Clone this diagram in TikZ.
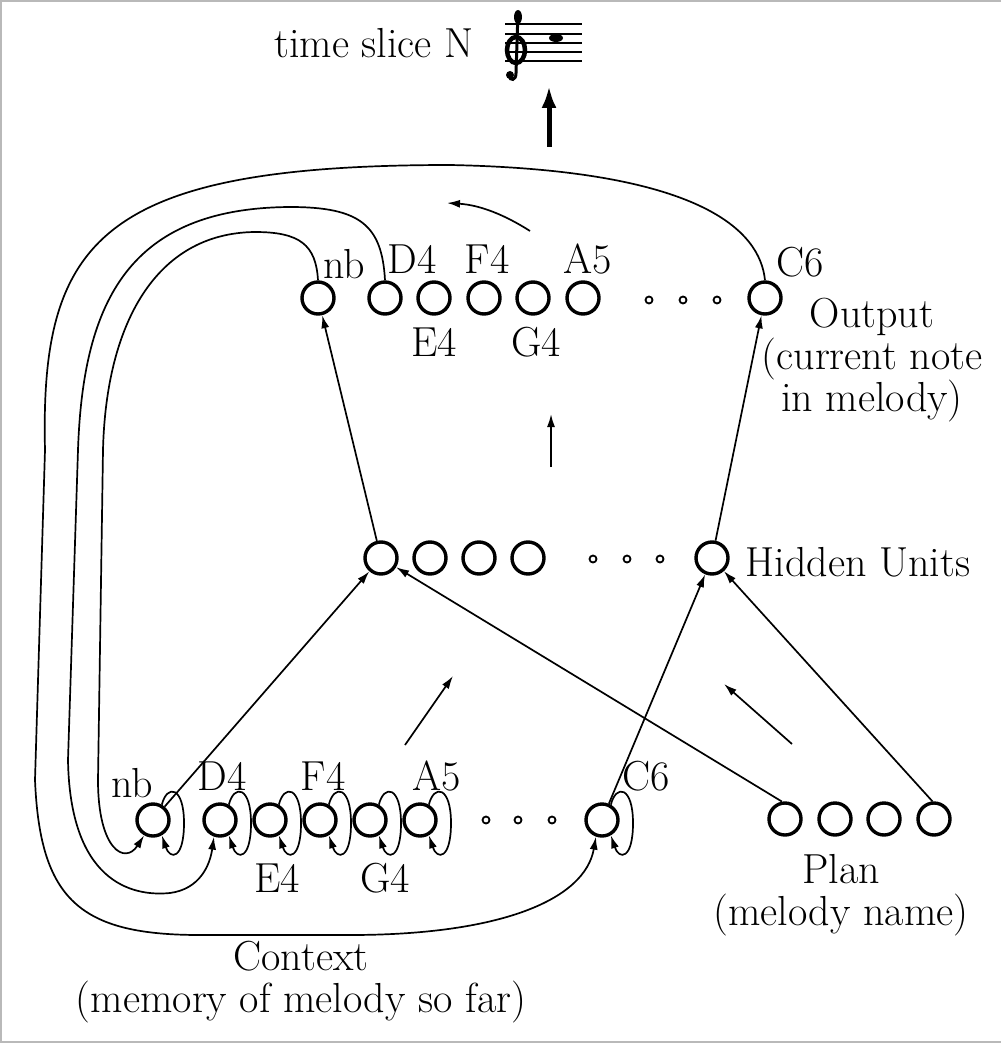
\documentclass[tikz,border=0pt]{standalone}
\usepackage{fontspec}
\usetikzlibrary{arrows.meta,calc}
\begin{document}
\begin{tikzpicture}[x=1pt,y=-1pt,
  unit/.style={circle,draw,line width=3.4pt,minimum size=32pt,inner sep=0pt},
  dotu/.style={circle,draw,line width=1.8pt,minimum size=7pt,inner sep=0pt},
  lab/.style={font=\fontsize{42}{42}\selectfont,inner sep=0pt,align=center},
  link/.style={line width=1.7pt},
  arr/.style={link,-{Latex[length=13pt,width=8pt]}},
  bigarr/.style={line width=5pt,-{Latex[length=22pt,width=15pt]}},
  staffline/.style={line width=2.6pt}
  ]
\useasboundingbox (0,0) rectangle (1001,1043);
\draw[gray!55,line width=4pt] (1001,0) -- (0,0) -- (0,1043) -- (1001,1043);

% ---------- output layer
\node[unit] (onb) at (318,298) {};
\node[unit] (oD4) at (385,298) {};
\node[unit] (oE4) at (434,298) {};
\node[unit] (oF4) at (484,298) {};
\node[unit] (oG4) at (533,298) {};
\node[unit] (oA5) at (583,298) {};
\node[unit] (oC6) at (765,298) {};
\node[dotu] (od1) at (649,300) {};
\node[dotu] (od2) at (683,300) {};
\node[dotu] (od3) at (717,300) {};
\node[lab] (lonb) at (344,264) {nb};
\node[lab] (loD4) at (412,259) {D4};
\node[lab] (loF4) at (487,259) {F4};
\node[lab] (loA5) at (588,259) {A5};
\node[lab] (loC6) at (800,262) {C6};
\node[lab] (loE4) at (434,342) {E4};
\node[lab] (loG4) at (536,342) {G4};
\node[lab] (lout) at (872,360) {Output\\(current note\\in melody)};

% ---------- hidden layer
\node[unit] (h1) at (381,558) {};
\node[unit] (h2) at (430,558) {};
\node[unit] (h3) at (479,558) {};
\node[unit] (h4) at (528,558) {};
\node[unit] (hN) at (712,558) {};
\node[dotu] (hd1) at (593,559) {};
\node[dotu] (hd2) at (627,559) {};
\node[dotu] (hd3) at (660,559) {};
\node[lab] (lhid) at (858,562) {Hidden Units};

% ---------- context layer
\node[unit] (cnb) at (153,820) {};
\node[unit] (cD4) at (220,820) {};
\node[unit] (cE4) at (270,820) {};
\node[unit] (cF4) at (320,820) {};
\node[unit] (cG4) at (370,820) {};
\node[unit] (cA5) at (420,820) {};
\node[unit] (cC6) at (602,820) {};
\node[dotu] (cd1) at (486,820) {};
\node[dotu] (cd2) at (518,820) {};
\node[dotu] (cd3) at (552,820) {};
\node[lab] (lcnb) at (132,783) {nb};
\node[lab] (lcD4) at (222,776) {D4};
\node[lab] (lcF4) at (323,776) {F4};
\node[lab] (lcA5) at (437,776) {A5};
\node[lab] (lcC6) at (646,776) {C6};
\node[lab] (lcE4) at (277,878) {E4};
\node[lab] (lcG4) at (385,878) {G4};
\node[lab] (lctx) at (301,982) {Context\\(memory of melody so far)};

% ---------- plan layer
\node[unit] (p1) at (785,819) {};
\node[unit] (p2) at (835,819) {};
\node[unit] (p3) at (884,819) {};
\node[unit] (p4) at (934,819) {};
\node[lab] (lplan) at (841,895) {Plan\\(melody name)};

% ---------- feed-forward connections
\draw[arr] (h1) -- (onb);
\draw[arr] (hN) -- (oC6);
\draw[arr] (cnb) -- (h1);
\draw[arr] (p1.100) -- (h1);
\draw[arr] (cC6) -- (hN);
\draw[arr] (p4.95) -- (hN);

% ---------- self loops on context units
\foreach \n in {cnb,cD4,cE4,cF4,cG4,cA5,cC6}{
  \draw[arr] (\n.60) .. controls ($(\n)+(14,-36)$) and ($(\n)+(31,-34)$) .. ($(\n)+(31,3)$)
     .. controls ($(\n)+(31,40)$) and ($(\n)+(17,40)$) .. (\n.-60);
}

% ---------- feedback from output to context
\draw[arr] (onb.north) .. controls (316,245) and (300,232) .. (255,232)
   .. controls (155,233) and (106,325) .. (103,450) -- (98,780)
   .. controls (98,850) and (125,865) .. (cnb.240);
\draw[arr] (oD4.north) .. controls (382,225) and (360,207) .. (290,207)
   .. controls (130,208) and (83,300) .. (78,450) -- (68,760)
   .. controls (70,880) and (130,897) .. (170,893)
   .. controls (200,889) and (210,865) .. (cD4.250);
\draw[arr] (oC6.north) .. controls (760,230) and (700,170) .. (450,165)
   .. controls (100,165) and (40,240) .. (45,450) -- (35,780)
   .. controls (40,900) and (80,935) .. (200,935) -- (350,935)
   .. controls (500,935) and (585,900) .. (cC6.250);

% ---------- direction indicators
\coordinate (a1s) at (530,231); \coordinate (a1e) at (447,203);
\draw[arr] (a1s) .. controls (505,215) and (480,205) .. (a1e);
\coordinate (a2s) at (551,467); \coordinate (a2e) at (551,414);
\draw[arr] (a2s) -- (a2e);
\coordinate (a3s) at (405,745); \coordinate (a3e) at (453,676);
\draw[arr] (a3s) -- (a3e);
\coordinate (a4s) at (792,744); \coordinate (a4e) at (724,684);
\draw[arr] (a4s) -- (a4e);
\coordinate (a5s) at (549,147); \coordinate (a5e) at (549,86);
\draw[bigarr] (a5s) -- (a5e);

% ---------- title and staff
\node[lab] (title) at (374,43) {time slice N};
\foreach \yy in {24,34,43,52,61}{
  \draw[staffline] (505,\yy) -- (582,\yy);
}
\fill (556,38) ellipse (7pt and 4pt);
\draw[line width=3pt] (518,12) -- (516,73);
\fill (518,17) ellipse (4pt and 7pt);
\draw[line width=4.5pt] (516,50) ellipse (9pt and 13pt);
\draw[line width=3pt] (516,73) .. controls (516,81) and (510,81) .. (509,76);
\fill (510,75) circle (4pt);
\end{tikzpicture}
\end{document}
